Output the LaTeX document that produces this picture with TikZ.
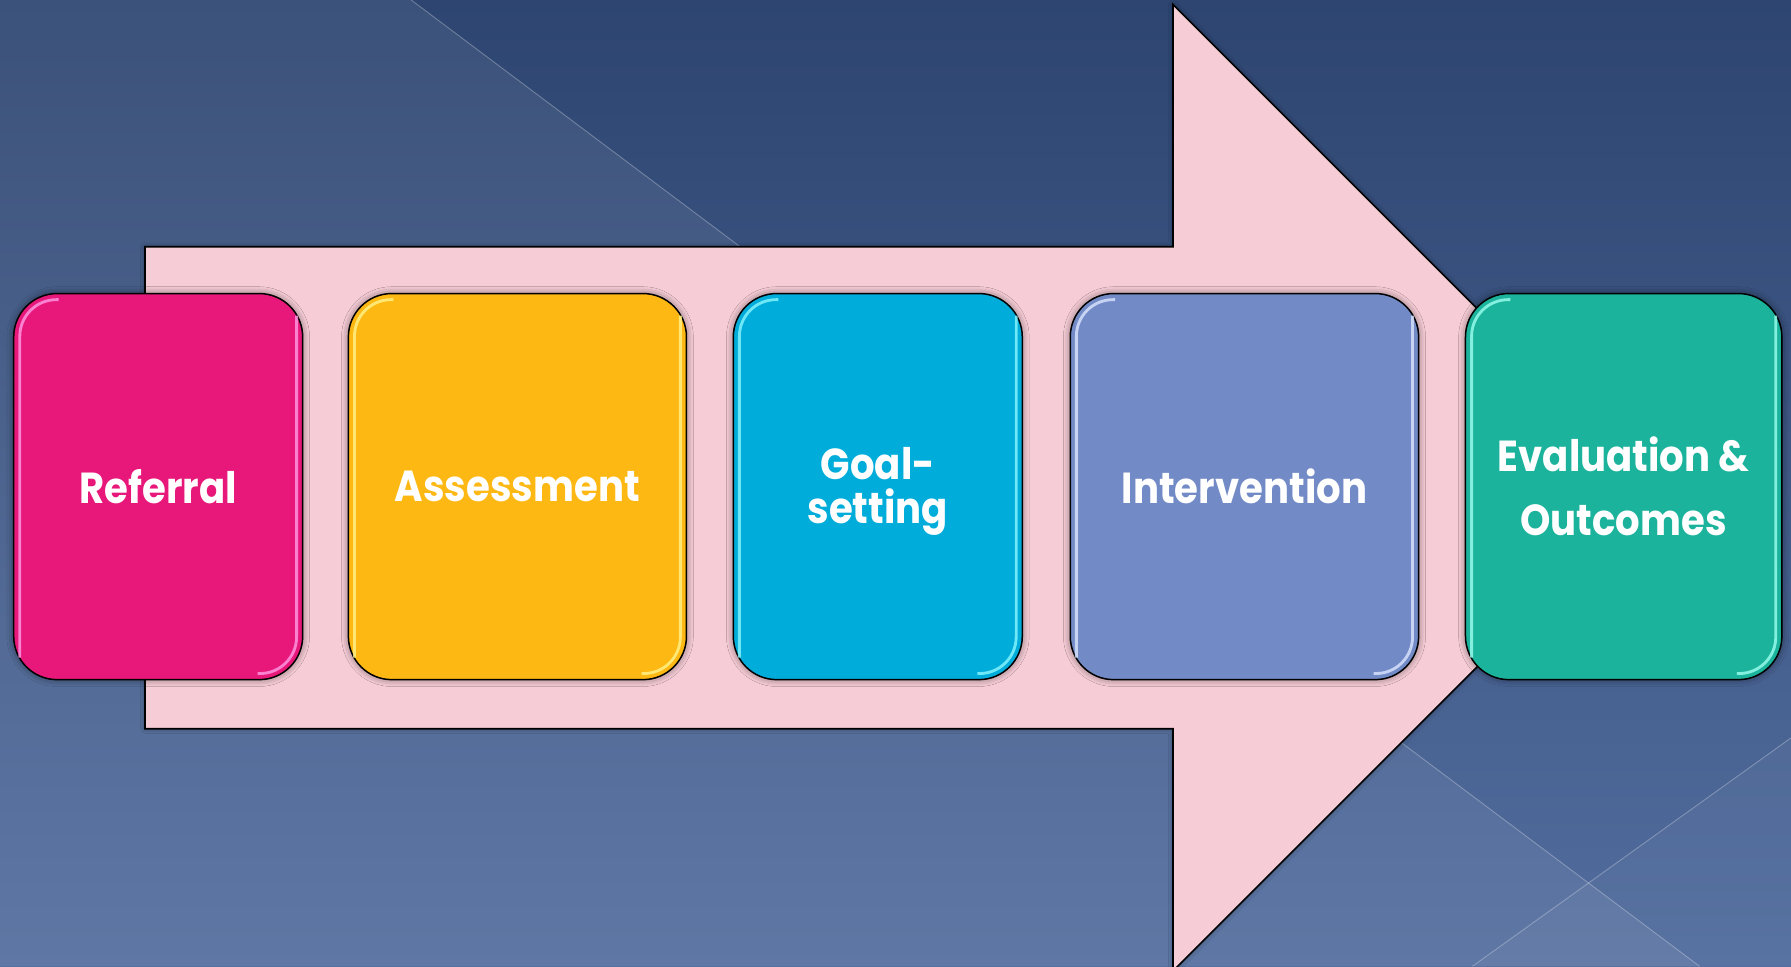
\documentclass[tikz,border=0pt]{standalone}
\usepackage{fontspec}
\setmainfont{Poppins}
\newfontfamily\stagefont{Poppins}[FakeStretch=0.89]
\usetikzlibrary{shadows.blur}
\definecolor{bgtop}{HTML}{2D4570}
\definecolor{bgbot}{HTML}{526D9E}
\definecolor{arrowpink}{HTML}{F6CCD6}
\definecolor{cref}{HTML}{E8177A}\definecolor{lref}{HTML}{FF9BE6}
\definecolor{cass}{HTML}{FDB813}\definecolor{lass}{HTML}{FFF38A}
\definecolor{cgoal}{HTML}{00ACDA}\definecolor{lgoal}{HTML}{8AF6FF}
\definecolor{cint}{HTML}{728AC6}\definecolor{lint}{HTML}{DCE6FF}
\definecolor{ceval}{HTML}{1CB39C}\definecolor{leval}{HTML}{9CFFF0}
\tikzset{
  stage/.style={draw=black, line width=1.3pt, rounded corners=38pt,
    minimum height=338pt, inner sep=0pt, text=white, align=center,
    font=\stagefont\bfseries\fontsize{38}{40}\selectfont,
    blur shadow={shadow xshift=0pt, shadow yshift=0pt, shadow blur radius=6pt, shadow opacity=50}},
  gloss/.style={line width=2.5pt, opacity=.8, rounded corners=32pt},
  bgline/.style={white, opacity=.28, line width=.8pt},
  bigarrow/.style={draw=black, line width=1.5pt, fill=arrowpink,
    blur shadow={shadow xshift=0pt, shadow yshift=0pt, shadow blur radius=4pt, shadow opacity=40}}
}
\newcommand\glossit[2]{% node name, light colour
  \draw[gloss, #2] ([xshift=40pt,yshift=-6pt]#1.north west) -- ([xshift=6pt,yshift=-6pt]#1.north west) -- ([xshift=6pt,yshift=20pt]#1.south west);
  \draw[gloss, #2] ([xshift=-6pt,yshift=-20pt]#1.north east) -- ([xshift=-6pt,yshift=6pt]#1.south east) -- ([xshift=-40pt,yshift=6pt]#1.south east);
}
\begin{document}
\begin{tikzpicture}[x=1pt,y=-1pt]
\useasboundingbox (0,0) rectangle (1568,846);
% background
\shade[top color=bgtop, bottom color=bgbot] (0,0) rectangle (1568,846);
\fill[white, opacity=.07] (0,0) -- (360,0) -- (1488,846) -- (0,846) -- cycle;
\fill[white, opacity=.04] (1568,646) -- (1568,846) -- (1289,846) -- cycle;
\draw[bgline] (360,0) -- (1488,846);
\draw[bgline] (1568,646) -- (1289,846);
% big arrow
\draw[bigarrow] (127,216) -- (1027,216) -- (1027,4) -- (1450,427) -- (1027,850) -- (1027,638) -- (127,638) -- cycle;
% stages
\node[stage, fill=cref, minimum width=253pt] (referral) at (138.5,426) {Referral};
\node[stage, fill=cass, minimum width=296pt] (assessment) at (453,426) {Assessment};
\node[stage, fill=cgoal, minimum width=253pt] (goal) at (768.5,426) {\raisebox{-5pt}[\height][\depth]{\begin{tabular}{@{}c@{}}Goal-\\[-4pt]setting\end{tabular}}};
\node[stage, fill=cint, minimum width=305pt] (intervention) at (1089.5,426) {Intervention};
\node[stage, fill=ceval, minimum width=277pt] (evaluation) at (1421.5,426) {Evaluation \&\\[16pt]Outcomes};
\glossit{referral}{lref}
\glossit{assessment}{lass}
\glossit{goal}{lgoal}
\glossit{intervention}{lint}
\glossit{evaluation}{leval}
\end{tikzpicture}
\end{document}
